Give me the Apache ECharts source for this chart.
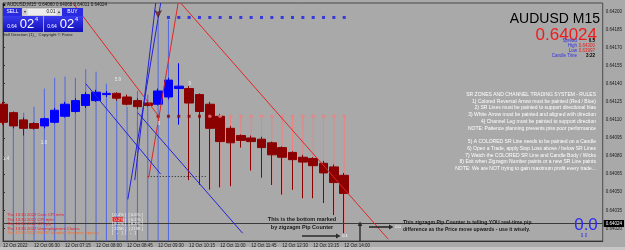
<!DOCTYPE html>
<html><head><meta charset="utf-8">
<script src="https://cdn.jsdelivr.net/npm/echarts@6/dist/echarts.min.js"></script>
<style>html,body{margin:0;padding:0;background:#a9a9a9}#c{width:625px;height:250px}</style>
</head><body><div id="c"></div>
<script>
// ---------------- DATA ----------------
const xTickLabels = ['12 Oct 2022','12 Oct 06:30','12 Oct 07:15','12 Oct 08:00','12 Oct 08:45','12 Oct 09:30','12 Oct 10:15','12 Oct 11:00','12 Oct 11:45','12 Oct 12:30','12 Oct 13:15','12 Oct 14:00'];
const candleTimes = ['05:45','06:00','06:15','06:30','06:45','07:00','07:15','07:30','07:45','08:00','08:15','08:30','08:45','09:00','09:15','09:30','09:45','10:00','10:15','10:30','10:45','11:00','11:15','11:30','11:45','12:00','12:15','12:30','12:45','13:00','13:15','13:30','13:45','14:00'];
const opens  = [0.64123,0.64116,0.64110,0.64107,0.64105,0.64108,0.64113,0.64117,0.64122,0.64126,0.64131,0.64132,0.64129,0.64126,0.64124,0.64123,0.64129,0.64136,0.64136,0.64131,0.64123,0.64113,0.64103,0.64097,0.64095,0.64094,0.64091,0.64087,0.64083,0.64079,0.64078,0.64074,0.64071,0.64064];
const closes = [0.64108,0.64105,0.64103,0.64103,0.64111,0.64118,0.64123,0.64126,0.64131,0.64133,0.64132,0.64128,0.64123,0.64121,0.64122,0.64134,0.64143,0.64138,0.64124,0.64117,0.64103,0.64092,0.64091,0.64093,0.64092,0.64087,0.64081,0.64079,0.64077,0.64075,0.64072,0.64066,0.64058,0.64049];
const lows   = [0.64106,0.64103,0.64097,0.64102,0.64103,0.64107,0.64112,0.64116,0.64120,0.64125,0.64129,0.64126,0.64122,0.64119,0.64121,0.64122,0.64127,0.64106,0.64060,0.64056,0.64052,0.64054,0.64055,0.64087,0.64068,0.64062,0.64056,0.64048,0.64052,0.64045,0.64045,0.64041,0.64031,0.64016];
const highs  = [0.64125,0.64117,0.64112,0.64108,0.64112,0.64120,0.64125,0.64128,0.64133,0.64135,0.64134,0.64133,0.64131,0.64128,0.64126,0.64136,0.64145,0.64157,0.64138,0.64132,0.64125,0.64115,0.64105,0.64098,0.64097,0.64096,0.64092,0.64088,0.64084,0.64081,0.64079,0.64076,0.64073,0.64066];
// indicator vertical lines (blue section): top price per candle
const blueLineTops = [null,0.64106,0.64116,0.64121,0.64136,0.64145,0.64146,0.64145,0.64152,0.64150,0.64140,0.64131,0.64121,0.64134,0.64131,0.64193,0.64193,null];
const pinkStartIndex = 18;
const dotLevel = 0.64113;
const darkDotIdx = [15,16,17,18,19];
const pinkDotIdx = [20,21,22,23,24,25,26,27,28,29,30,31,32,33];
const squareLevel = 0.64195;
const squareIdx = [16,17,18,19,20,21,22,23,24,25,26,27,28,29,30,31,32,33];
const arrowPoint = [15, 0.64195];
const bidPrice = 0.64024;
const redTrendLines = [
  [[6.76,0.64207],[15.06,0.64113]],
  [[14.09,0.64062],[16.94,0.64207]],
  [[17.18,0.64207],[37.26,0.64011]]
];
const blueTrendLines = [
  [[8.01,0.64140],[15.25,0.64065]],
  [[13.03,0.64116],[23.17,0.64016]],
  [[12.07,0.64044],[15.25,0.64207]],
  [[12.74,0.64060],[14.77,0.64207]]
];
const dottedLine = [[14.0,0.64063],[19.6,0.64063]];
const zigzagLabels = [[11.1,0.64143,'5.9'],[3.96,0.64091,'1.8'],[0.3,0.64078,'1.4'],[18.05,0.64140,'9'],[15.06,0.64107,'8']];
const Y_MIN = 0.640095, Y_MAX = 0.642070, Y_STEP = 0.00015;
const X_MAX = 58;

// ---------------- BUILD ----------------
const FONT = 'Liberation Sans, Arial, sans-serif';
const candleData = opens.map((o,i)=>[i,o,closes[i],lows[i],highs[i]]);
const blueV = []; blueLineTops.forEach((t,i)=>{ if(t!=null) blueV.push([i,t,Y_MIN]); });
const pinkV = []; for(let i=pinkStartIndex;i<lows.length;i++) pinkV.push([i,dotLevel,lows[i]]);
function vRender(color){
  return function(params, api){
    const a = api.coord([api.value(0), api.value(1)]);
    const b = api.coord([api.value(0), api.value(2)]);
    return {type:'line', shape:{x1:a[0],y1:a[1],x2:b[0],y2:b[1]}, style:{stroke:color,lineWidth:1}};
  };
}
function ml(lines, style){ return lines.map(l=>[{coord:l[0], lineStyle:style},{coord:l[1]}]); }

const t = (x,y,text,size,fill,align,extra)=>Object.assign({type:'text',x:x,y:y,silent:true,z:100,style:{text:text,fill:fill,font:size,align:align||'left',verticalAlign:'middle'}},extra||{});
const rect = (x,y,w,h,fill,stroke)=>({type:'rect',silent:true,z:99,shape:{x:x,y:y,width:w,height:h},style:{fill:fill,stroke:stroke||null,lineWidth:stroke?0.5:0}});
const gline = (x1,y1,x2,y2,c,w)=>({type:'line',silent:true,z:100,shape:{x1,y1,x2,y2},style:{stroke:c,lineWidth:w}});
const poly = (pts,c)=>({type:'polygon',silent:true,z:100,shape:{points:pts},style:{fill:c}});
const grad = {type:'linear',x:0,y:0,x2:0,y2:1,colorStops:[{offset:0,color:'#3a3af0'},{offset:1,color:'#1010b8'}]};

const rules = ['SR ZONES AND CHANNEL TRADING SYSTEM - RULES','1) Colored Reversal Arrow must be painted (Red / Blue)','2) SR Lines must be painted to support directional bias','3) White Arrow must be painted and aligned with direction','4) Channel Leg must be painted to support direction','NOTE: Patience planning prevents piss poor performance','','5) A COLORED SR Line needs to be painted on a Candle','6) Open a Trade, apply Stop Loss above / below SR Lines','7) Watch the COLORED SR Line and Candle Body / Wicks','8) Exit when Zigzagm Number paints or a new SR Line paints','NOTE: We are NOT trying to gain maximum profit every trade...'].join('\n');

const news = ['Thu 13:30 2022 Core CPI m/m','Thu 13:30 2022 CPI m/m','Thu 13:30 2022 CPI y/y','Thu 13:30 2022 Unemployment Claims','Thu 17:30 2022 FOMC Member Bowman Speaks'];
const newsVals = ['[ 0.4% ]  [ 0.6% ]','[ 0.2% ]  [ 0.1% ]','[ 8.1% ]  [ 8.3% ]','[ 225K ]  [ 219K ]','[   -   ]  [   -   ]'];

const graphic = [
  rect(0,247,625,3,'#c6c6c6'),
  t(3,5,'\u25A0 AUDUSD,M15  0.64060 0.64068 0.64011 0.64024','4.5px '+FONT,'#111'),
  // trade panel
  rect(3,8,19,8,'#2a2ae0'), t(12.5,12,'SELL','5px '+FONT,'#fff','center'),
  rect(22,8,40,8,'#ededed','#777'), rect(22.5,8.5,5,7,'#cfcfcf'), rect(56.5,8.5,5,7,'#cfcfcf'),
  t(25,12,'\u25BE','4px '+FONT,'#333','center'), t(59,12,'\u25B4','4px '+FONT,'#333','center'),
  t(51,12,'0.01','4.5px '+FONT,'#111','center'),
  rect(62,8,21,8,'#2a2ae0'), t(72.5,12,'BUY','5px '+FONT,'#fff','center'),
  rect(3,16,40,16,grad), rect(44,16,39,16,grad),
  t(12,26.5,'0.64','5px '+FONT,'#fff','center'), t(27,24.5,'02','13px '+FONT,'#fff','center'), t(36.5,19.5,'4','5.5px '+FONT,'#fff','center'),
  t(52,26.5,'0.64','5px '+FONT,'#fff','center'), t(67,24.5,'02','13px '+FONT,'#fff','center'), t(76.5,19.5,'4','5.5px '+FONT,'#fff','center'),
  t(3,34.5,'Sell Direction (1)_  Copyright \u00A9 Forex','4.2px '+FONT,'#222'),
  // right info
  t(600,19,'AUDUSD M15','14px '+FONT,'#000','right'),
  t(597,35,'0.64024','17px '+FONT,'#f01c1c','right'),
  t(577,40.5,'Spread','4.5px '+FONT,'#3030e0','right'), t(595,40.5,'0.5','bold 4.5px '+FONT,'#000','right'),
  t(577,45.5,'High','4.5px '+FONT,'#3030e0','right'), t(595,45.5,'0.64300','4.5px '+FONT,'#e82020','right'),
  t(577,50.5,'Low','4.5px '+FONT,'#3030e0','right'), t(595,50.5,'0.63997','4.5px '+FONT,'#e82020','right'),
  t(577,56,'Candle Time','4.5px '+FONT,'#3030e0','right'), t(595,56,'3:22','bold 4.5px '+FONT,'#000','right'),
  // rules
  {type:'text',x:596,y:91,silent:true,z:100,style:{text:rules,fill:'#fff',font:'5px '+FONT,align:'right',verticalAlign:'top',lineHeight:6.75}},
  // bottom annotations
  t(302,219.5,'This is the bottom marked','bold 5.5px '+FONT,'#1a1a1a','center'),
  t(302,227,'by zigzagm Pip Counter','bold 5.5px '+FONT,'#1a1a1a','center'),
  gline(302,236,336,236,'#2a2a2a',1.6), poly([[336,233.6],[340.5,236],[336,238.4]],'#2a2a2a'),
  t(345,236,'0.1','4px '+FONT,'#fff','center'),
  gline(360,241,360,226,'#2a2a2a',1.4), poly([[357.6,226],[360,221.5],[362.4,226]],'#2a2a2a'),
  gline(369,227,389,227,'#2a2a2a',1.6), poly([[389,224.6],[393.5,227],[389,229.4]],'#2a2a2a'),
  t(398,227,'0.0','4px '+FONT,'#fff','center'),
  t(403,223,'This zigzagm Pip Counter is telling YOU real-time pip','bold 5.1px '+FONT,'#1a1a1a'),
  t(403,230,'difference as the Price move upwards - use it wisely.','bold 5.1px '+FONT,'#1a1a1a'),
  t(586,225.5,'0.0','17px '+FONT,'#2b2bf2','center'),
  t(584,236,'0.0','4.5px '+FONT,'#2b2bf2','center'),
  rect(112,217.3,11,4.4,'#e02020')
];
news.forEach((s,i)=>graphic.push(t(7,215+i*4.5,s,'4.2px '+FONT, i===4?'#ff6a20':'#e8202a')));
newsVals.forEach((s,i)=>graphic.push(t(112,215+i*4.5,s,'4.2px '+FONT,'#f4f4f4')));

const chart = echarts.init(document.getElementById('c'), null, {renderer:'canvas'});
chart.setOption({
  backgroundColor:'#a9a9a9',
  animation:false,
  grid:{left:2,right:22,top:3,bottom:9,show:true,borderColor:'#4a4a4a',borderWidth:1},
  xAxis:{type:'value',min:0,max:X_MAX,interval:3,
    axisLine:{show:true,lineStyle:{color:'#333'}},axisTick:{show:false},splitLine:{show:false},
    axisLabel:{show:true,fontSize:4.5,fontFamily:FONT,color:'#1a1a1a',align:'left',margin:2,showMaxLabel:false,
      formatter:v=>{const k=Math.round(v/3); return (Math.abs(v-k*3)<1e-6 && k<xTickLabels.length)?xTickLabels[k]:'';}}},
  yAxis:{type:'value',position:'right',min:Y_MIN,max:Y_MAX,minInterval:Y_STEP,maxInterval:Y_STEP,splitNumber:13,scale:true,
    axisLine:{show:true,lineStyle:{color:'#333'}},axisTick:{show:true,length:2,lineStyle:{color:'#333'}},splitLine:{show:false},
    axisLabel:{fontSize:4.5,fontFamily:FONT,color:'#1a1a1a',margin:3,showMinLabel:false,showMaxLabel:false,formatter:v=>v.toFixed(5)}},
  series:[
    {type:'custom',renderItem:vRender('#5066e2'),data:blueV,encode:{x:0,y:[1,2]},z:1,silent:true,clip:true},
    {type:'custom',renderItem:vRender('#f08080'),data:pinkV,encode:{x:0,y:[1,2]},z:1,silent:true,clip:true},
    {type:'candlestick',data:candleData,barWidth:9,z:3,silent:true,
      itemStyle:{color:'#0000ff',color0:'#8b0000',borderColor:'#0000ff',borderColor0:'#8b0000',borderWidth:1},
      markLine:{silent:true,symbol:['none','none'],animation:false,
        data:[
          [{coord:[0,bidPrice],lineStyle:{color:'#3a3a3a',width:1,type:'solid'},
            label:{show:true,position:'end',formatter:bidPrice.toFixed(5),backgroundColor:'#000',color:'#fff',fontSize:4.5,padding:[1,2],distance:1}},
           {coord:[X_MAX,bidPrice]}],
          [{coord:dottedLine[0],lineStyle:{color:'#222',width:1,type:[1,2]},label:{show:false}},{coord:dottedLine[1]}]
        ]}},
    {type:'scatter',data:darkDotIdx.map(i=>[i,dotLevel]),symbol:'rect',symbolSize:3,itemStyle:{color:'#8b0000'},z:4,silent:true},
    {type:'scatter',data:pinkDotIdx.map(i=>[i,dotLevel]),symbol:'circle',symbolSize:3.5,itemStyle:{color:'#f08080'},z:4,silent:true,
      markLine:{silent:true,symbol:['none','none'],animation:false,label:{show:false},data:ml(redTrendLines,{color:'#e02626',width:1,type:'solid'})}},
    {type:'scatter',data:squareIdx.map(i=>[i,squareLevel]),symbol:'rect',symbolSize:3,itemStyle:{color:'#1a1ae8'},z:4,silent:true,
      markLine:{silent:true,symbol:['none','none'],animation:false,label:{show:false},data:ml(blueTrendLines,{color:'#2323d8',width:1,type:'solid'})}},
    {type:'scatter',data:[arrowPoint],symbol:'arrow',symbolRotate:180,symbolSize:[5,7],itemStyle:{color:'#8b1a1a',borderColor:'#111',borderWidth:0.5},z:5,silent:true},
    {type:'scatter',data:zigzagLabels.map(d=>[d[0],d[1]]),symbolSize:0.1,itemStyle:{color:'rgba(0,0,0,0)'},z:5,silent:true,
      label:{show:true,position:'inside',fontSize:4.5,fontFamily:FONT,color:'#fff',formatter:p=>zigzagLabels[p.dataIndex][2]}}
  ],
  graphic:graphic
});
</script></body></html>
